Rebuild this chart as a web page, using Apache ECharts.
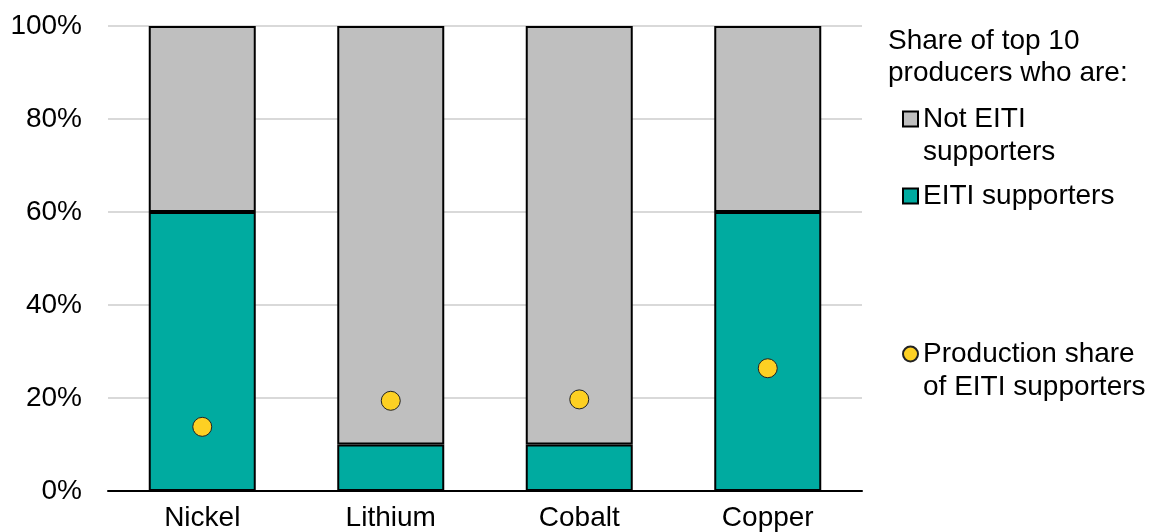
<!DOCTYPE html>
<html>
<head>
<meta charset="utf-8">
<script src="https://cdn.jsdelivr.net/npm/echarts@6/dist/echarts.min.js"></script>
<style>
html, body { margin: 0; padding: 0; background: #fff; }
#panel { width: 1158px; height: 532px; }
</style>
</head>
<body>
<div id="panel"></div>
<script>
var minerals = ['Nickel', 'Lithium', 'Cobalt', 'Copper'];
var eitiShare = [60, 10, 10, 60];
var notEitiShare = [40, 90, 90, 40];
var productionShare = [13.8, 19.4, 19.7, 26.4];
var yTicks = [0, 20, 40, 60, 80, 100];

var FONT = '"Liberation Sans", Arial, sans-serif';
var FS = 28;

chartDom = document.getElementById('panel');
myChart = echarts.init(chartDom);

/** 图例：每项单独定位；多行文字前加空行，让图标对齐第一行 */
function legendAt(name, top, icon, lines) {
    return {
        data: [name],
        left: 902,
        top: top,
        padding: 0,
        icon: icon,
        itemWidth: 15,
        itemHeight: 15,
        selectedMode: false,
        formatter: function (n) { return lines > 1 ? '\n' + n : n; },
        textStyle: { fontFamily: FONT, fontSize: FS, color: '#000', lineHeight: 33 }
    };
}

option = {
    animation: false,
    title: {
        text: 'Share of top 10\nproducers who are:',
        left: 888,
        top: 25,
        padding: 0,
        textStyle: { fontFamily: FONT, fontSize: FS, color: '#000', fontWeight: 'normal', lineHeight: 32 }
    },
    legend: [
        legendAt('Not EITI\nsupporters', 69.5, 'rect', 2),
        legendAt('EITI supporters', 179.5, 'rect', 1),
        legendAt('Production share\nof EITI supporters', 304.5, 'circle', 2)
    ],
    grid: { left: 108, right: 296, top: 26, bottom: 40 },
    xAxis: {
        type: 'category',
        data: minerals,
        axisLine: { lineStyle: { color: '#000', width: 2 } },
        axisTick: { show: false },
        axisLabel: { fontFamily: FONT, fontSize: FS, color: '#000', margin: 13 }
    },
    yAxis: {
        type: 'value',
        min: yTicks[0],
        max: yTicks[yTicks.length - 1],
        interval: 20,
        axisLine: { show: false },
        axisTick: { show: false },
        axisLabel: { fontFamily: FONT, fontSize: FS, color: '#000', margin: 26, formatter: '{value}%' },
        splitLine: { lineStyle: { color: '#D9D9D9', width: 2 } }
    },
    series: [
        {
            name: 'EITI supporters',
            type: 'bar',
            stack: 'share',
            barWidth: 107,
            data: eitiShare,
            itemStyle: { color: '#00ABA0', borderColor: '#000', borderWidth: 2 }
        },
        {
            name: 'Not EITI\nsupporters',
            type: 'bar',
            stack: 'share',
            barWidth: 107,
            data: notEitiShare,
            itemStyle: { color: '#BFBFBF', borderColor: '#000', borderWidth: 2 }
        },
        {
            name: 'Production share\nof EITI supporters',
            type: 'scatter',
            symbolSize: 19,
            data: productionShare,
            z: 5,
            itemStyle: { color: '#FDD023', borderColor: '#222', borderWidth: 1, opacity: 1 }
        }
    ]
};

myChart.setOption(option);
</script>
</body>
</html>
